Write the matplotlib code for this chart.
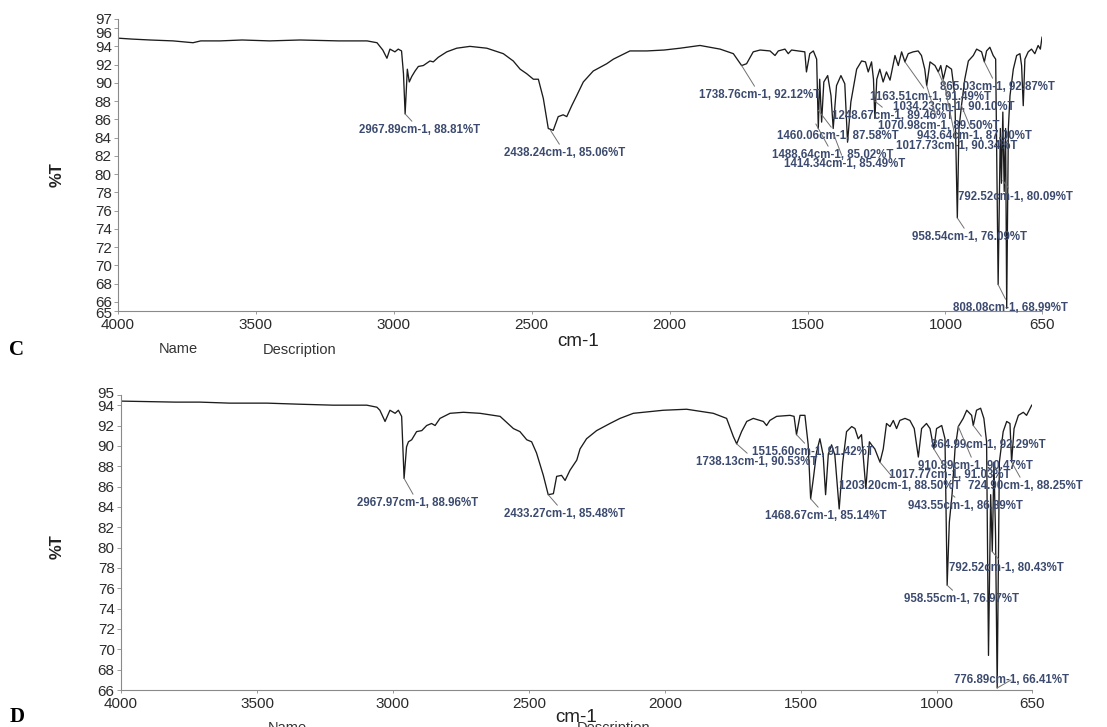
import matplotlib
matplotlib.use("Agg")

import matplotlib.pyplot as plt
from matplotlib.transforms import ScaledTranslation

W, H = 1107, 727
plt.rcParams['font.family'] = ['Liberation Sans', 'DejaVu Sans']

# x axis (both panels)
x_ticks = [4000, 3500, 3000, 2500, 2000, 1500, 1000, 650]

# ---- panel C: spectrum (cm-1, %T) ----
c_wn = [4000, 3950, 3884, 3800, 3728, 3700, 3630, 3550, 3450, 3340,
        3200, 3097, 3061, 3040, 3025, 3014, 2996, 2984, 2972, 2965,
        2959, 2951, 2944, 2935, 2923, 2911, 2893, 2869, 2857, 2839,
        2808, 2772, 2724, 2663, 2603, 2567, 2542, 2518, 2494, 2476,
        2458, 2440, 2422, 2404, 2386, 2373, 2355, 2337, 2313, 2277,
        2228, 2204, 2144, 2083, 2020, 1962, 1890, 1817, 1769, 1739,
        1721, 1697, 1672, 1636, 1618, 1606, 1582, 1570, 1558, 1510,
        1504, 1492, 1479, 1467, 1461, 1456, 1449, 1441, 1427, 1415,
        1407, 1395, 1379, 1365, 1355, 1343, 1322, 1304, 1290, 1280,
        1268, 1261, 1256, 1249, 1238, 1226, 1214, 1201, 1183, 1171,
        1159, 1147, 1135, 1117, 1099, 1087, 1075, 1068, 1056, 1038,
        1026, 1017, 1008, 996, 978, 966, 957, 951, 942, 930,
        917, 899, 887, 869, 859, 851, 839, 827, 818, 809,
        801, 797, 792, 787, 782, 778, 772, 766, 754, 742,
        730, 724, 718, 712, 700, 688, 676, 664, 656, 650]
c_t = [94.9, 94.8, 94.7, 94.6, 94.4, 94.6, 94.6, 94.7, 94.6, 94.7,
       94.6, 94.6, 94.4, 93.6, 92.7, 93.7, 93.4, 93.7, 93.5, 91.0,
       86.6, 91.5, 90.1, 90.7, 91.3, 91.8, 91.9, 92.4, 92.3, 92.8,
       93.4, 93.8, 94.0, 93.8, 93.2, 92.4, 91.5, 91.0, 90.4, 90.4,
       88.3, 85.0, 84.8, 86.3, 86.5, 86.3, 87.5, 88.6, 90.1, 91.3,
       92.1, 92.6, 93.5, 93.5, 93.6, 93.8, 94.1, 93.7, 93.2, 91.9,
       92.1, 93.4, 93.6, 93.5, 93.0, 93.5, 93.7, 93.2, 93.6, 93.4,
       91.2, 93.2, 93.5, 92.6, 85.0, 90.4, 85.7, 90.1, 90.8, 88.6,
       85.0, 89.7, 90.8, 89.9, 83.5, 87.9, 91.5, 92.4, 92.3, 91.2,
       92.3, 90.4, 86.1, 90.4, 91.5, 90.1, 91.2, 90.3, 93.0, 91.9,
       93.4, 92.3, 93.2, 93.4, 93.5, 93.0, 91.5, 89.7, 92.3, 91.9,
       91.2, 91.9, 90.4, 91.9, 91.5, 88.6, 75.2, 85.0, 87.5, 90.4,
       92.4, 93.0, 93.7, 93.4, 92.3, 93.5, 93.9, 93.0, 92.6, 67.9,
       85.0, 79.0, 86.8, 78.1, 85.0, 65.3, 85.0, 88.6, 91.5, 93.0,
       93.2, 91.9, 87.5, 92.6, 93.4, 93.7, 93.2, 94.1, 93.7, 95.0]
c_yticks = [97, 96, 94, 92, 90, 88, 86, 84, 82, 80, 78, 76, 74, 72, 70, 68, 66, 65]

c_labels = ["2967.89cm-1, 88.81%T", "2438.24cm-1, 85.06%T", "1738.76cm-1, 92.12%T",
            "1163.51cm-1, 91.49%T", "865.03cm-1, 92.87%T", "1034.23cm-1, 90.10%T",
            "1248.67cm-1, 89.46%T", "1070.98cm-1, 89.50%T", "1460.06cm-1, 87.58%T",
            "943.64cm-1, 87.00%T", "1017.73cm-1, 90.34%T", "1488.64cm-1, 85.02%T",
            "1414.34cm-1, 85.49%T", "792.52cm-1, 80.09%T", "958.54cm-1, 76.09%T",
            "808.08cm-1, 68.99%T"]
c_peak_wn = [2959, 2432, 1739, 1147, 859, 1026, 1256, 1068, 1461, 942, 1008, 1470, 1407, 792, 957, 809]
c_peak_t = [86.6, 84.8, 91.9, 92.3, 92.3, 91.2, 88.0, 89.7, 87.0, 87.5, 90.4, 85.5, 84.5, 79.3, 75.2, 67.9]

# ---- panel D ----
d_wn = [4000, 3900, 3800, 3710, 3600, 3463, 3350, 3220, 3096, 3059,
        3048, 3029, 3011, 2992, 2980, 2968, 2959, 2950, 2943, 2931,
        2913, 2894, 2876, 2858, 2845, 2827, 2790, 2741, 2680, 2606,
        2557, 2533, 2508, 2490, 2472, 2447, 2429, 2410, 2398, 2380,
        2367, 2349, 2324, 2312, 2288, 2251, 2202, 2165, 2116, 2006,
        1920, 1822, 1773, 1748, 1736, 1718, 1699, 1675, 1638, 1626,
        1614, 1589, 1540, 1525, 1516, 1503, 1485, 1473, 1464, 1454,
        1442, 1430, 1418, 1409, 1399, 1387, 1375, 1359, 1346, 1332,
        1313, 1301, 1289, 1277, 1261, 1248, 1240, 1228, 1209, 1197,
        1185, 1172, 1160, 1148, 1136, 1117, 1099, 1083, 1068, 1056,
        1038, 1025, 1011, 1001, 982, 970, 962, 954, 944, 933,
        921, 903, 890, 872, 866, 854, 839, 827, 817, 810,
        802, 796, 790, 784, 778, 770, 756, 743, 731, 725,
        716, 700, 682, 670, 651]
d_t = [94.4, 94.35, 94.3, 94.3, 94.2, 94.2, 94.1, 94.0, 94.0, 93.8,
       93.5, 92.4, 93.5, 93.2, 93.5, 92.9, 86.8, 89.9, 90.4, 90.6,
       91.4, 91.5, 92.0, 92.2, 92.0, 92.7, 93.2, 93.3, 93.2, 92.9,
       91.7, 91.4, 90.6, 90.4, 89.3, 87.1, 85.2, 85.3, 87.0, 87.1,
       86.6, 87.6, 88.6, 89.7, 90.7, 91.5, 92.2, 92.7, 93.2, 93.5,
       93.6, 93.2, 92.7, 90.9, 90.2, 91.4, 92.4, 92.7, 92.4, 92.0,
       92.5, 92.9, 93.0, 92.9, 91.1, 93.0, 93.0, 90.1, 84.8, 86.8,
       89.4, 90.7, 89.1, 85.2, 89.2, 90.1, 89.1, 83.8, 88.4, 91.4,
       91.9, 91.7, 90.7, 91.1, 85.8, 90.4, 90.1, 89.7, 88.4, 89.7,
       92.2, 91.9, 92.5, 91.7, 92.5, 92.7, 92.5, 91.7, 88.9, 91.7,
       92.2, 91.7, 89.7, 91.7, 92.0, 90.7, 76.3, 82.5, 85.2, 89.7,
       91.9, 92.7, 93.5, 93.0, 92.0, 93.5, 93.7, 92.7, 90.4, 69.4,
       85.2, 79.6, 88.4, 81.2, 66.2, 88.4, 91.4, 92.4, 92.2, 88.4,
       91.7, 93.0, 93.3, 93.0, 94.0]
d_yticks = [95, 94, 92, 90, 88, 86, 84, 82, 80, 78, 76, 74, 72, 70, 68, 66]

d_labels = ["2967.97cm-1, 88.96%T", "2433.27cm-1, 85.48%T", "1738.13cm-1, 90.53%T",
            "1515.60cm-1, 91.42%T", "864.99cm-1, 92.29%T", "910.89cm-1, 90.47%T",
            "1017.77cm-1, 91.03%T", "1203.20cm-1, 88.50%T", "724.90cm-1, 88.25%T",
            "943.55cm-1, 86.89%T", "1468.67cm-1, 85.14%T", "792.52cm-1, 80.43%T",
            "958.55cm-1, 76.97%T", "776.89cm-1, 66.41%T"]
d_peak_wn = [2959, 2429, 1736, 1516, 866, 921, 1011, 1209, 725, 944, 1464, 796, 962, 778]
d_peak_t = [86.8, 85.2, 90.2, 91.1, 92.0, 91.9, 89.7, 88.4, 88.4, 85.2, 84.8, 79.6, 76.3, 66.2]

# label centres in image pixels (layout only)
c_label_px = [(420, 130), (565, 153), (760, 95), (930, 97), (997, 87), (954, 107),
              (893, 116), (939, 126), (838, 136), (974, 136), (957, 146), (833, 155),
              (845, 164), (1015, 197), (970, 237), (1010, 308)]
d_label_px = [(418, 503), (565, 514), (757, 462), (813, 452), (988, 445), (975, 466),
              (950, 475), (900, 486), (1025, 486), (965, 506), (826, 516), (1006, 568),
              (962, 599), (1011, 680)]

# squeezed end-of-axis tick labels on the scan: nudge (pixels, + = up)
c_nudge = {96: -4, 65: -2}
d_nudge = {95: 3}


def panel(fig, rect, wn, t, ylim, yticks, labels, pk_wn, pk_t, lab_px, nudge):
    ax = fig.add_axes(rect)
    ax.plot(wn, t, color='#1c1c1c', lw=0.95)
    ax.set_xlim(4000, 650)
    ax.set_ylim(*ylim)
    ax.set_xticks(x_ticks)
    ax.set_yticks(yticks)
    for s in ['top', 'right']:
        ax.spines[s].set_visible(False)
    for s in ['left', 'bottom']:
        ax.spines[s].set_color('#8a8a8a')
        ax.spines[s].set_linewidth(0.8)
    ax.tick_params(axis='y', length=3, width=0.6, color='#8a8a8a',
                   labelsize=11, labelcolor='#2b2b2b', pad=1.5)
    ax.tick_params(axis='x', length=2, width=0.6, color='#8a8a8a',
                   labelsize=11, labelcolor='#2b2b2b', pad=3)
    for val, lab in zip(yticks, ax.get_yticklabels()):
        if val in nudge:
            off = ScaledTranslation(0, nudge[val] / 100, fig.dpi_scale_trans)
            lab.set_transform(lab.get_transform() + off)
    for lab, pw, pt, (px, py) in zip(labels, pk_wn, pk_t, lab_px):
        ax.annotate(lab, xy=(pw, pt), xytext=(px / W, 1 - py / H),
                    textcoords='figure fraction', ha='center', va='center',
                    fontsize=8.3, fontweight='bold', color='#3b4a6e',
                    arrowprops=dict(arrowstyle='-', color='#707070', lw=0.7,
                                    shrinkA=0, shrinkB=0))
    return ax


fig = plt.figure(figsize=(W / 100, H / 100), dpi=100)
fig.patch.set_facecolor('white')

panel(fig, [118 / W, 1 - 311 / H, 924 / W, 292 / H], c_wn, c_t, (65, 97), c_yticks,
      c_labels, c_peak_wn, c_peak_t, c_label_px, c_nudge)
panel(fig, [121 / W, 1 - 690 / H, 911 / W, 295 / H], d_wn, d_t, (66, 95), d_yticks,
      d_labels, d_peak_wn, d_peak_t, d_label_px, d_nudge)

# axis titles and panel letters
for y in (175, 547):
    fig.text(57 / W, 1 - y / H, '%T', rotation=90, ha='center', va='center',
             fontsize=12, fontweight='bold', color='#222222')
fig.text(578 / W, 1 - 342 / H, 'cm-1', ha='center', va='center', fontsize=13.5, color='#222222')
fig.text(576 / W, 1 - 718 / H, 'cm-1', ha='center', va='center', fontsize=13.5, color='#222222')
fig.text(178 / W, 1 - 349 / H, 'Name', ha='center', va='center', fontsize=10.5, color='#333333')
fig.text(300 / W, 1 - 350 / H, 'Description', ha='center', va='center', fontsize=10.5, color='#333333')
fig.text(287 / W, 1 - 721 / H, 'Name', ha='center', va='top', fontsize=10.5, color='#333333')
fig.text(614 / W, 1 - 721 / H, 'Description', ha='center', va='top', fontsize=10.5, color='#333333')
fig.text(17 / W, 1 - 350 / H, 'C', ha='center', va='center', fontsize=15,
         fontweight='bold', family='Liberation Serif')
fig.text(17 / W, 1 - 717 / H, 'D', ha='center', va='center', fontsize=15,
         fontweight='bold', family='Liberation Serif')

fig.savefig('out.png', dpi=100)
